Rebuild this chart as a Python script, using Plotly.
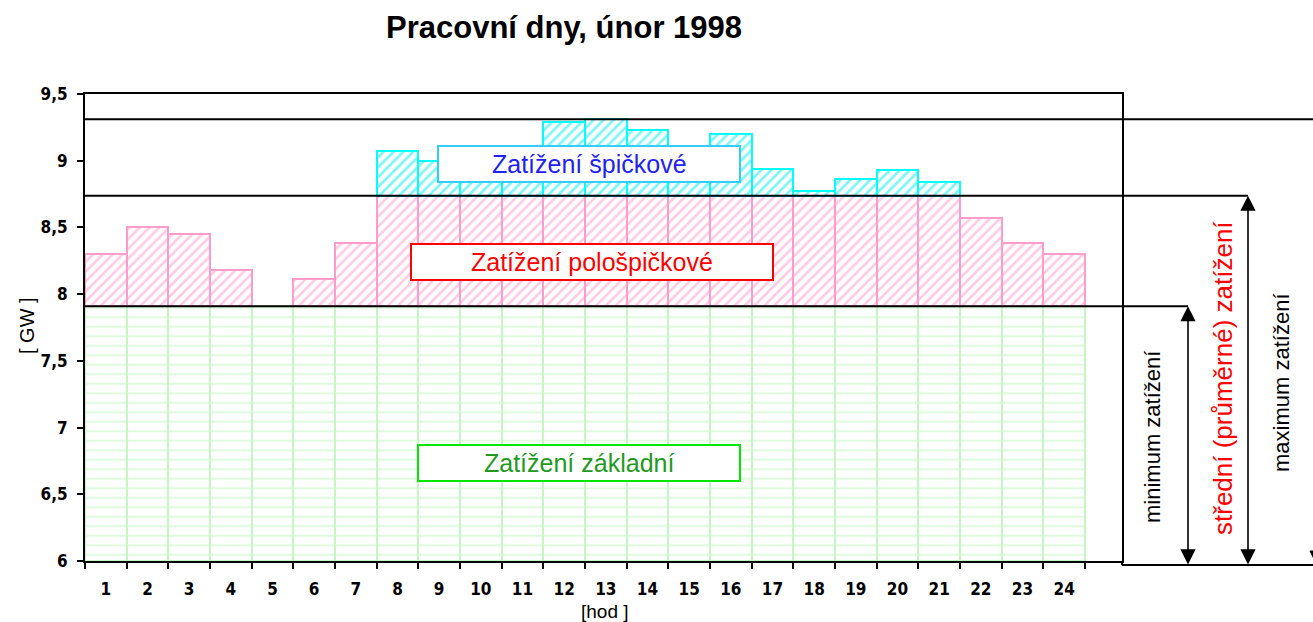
import plotly.graph_objects as go

# ---------------- data ----------------
HOURS = list(range(1, 25))
HOUR_LABELS = [str(h) for h in HOURS]
LOAD_GW = [8.30, 8.50, 8.45, 8.18, 7.91, 8.11, 8.38, 9.07, 9.00, 9.04, 9.08, 9.29,
           9.31, 9.23, 9.08, 9.20, 8.94, 8.77, 8.86, 8.93, 8.84, 8.57, 8.38, 8.30]
Y_TICKS = [6, 6.5, 7, 7.5, 8, 8.5, 9, 9.5]
Y_TICK_LABELS = ["6", "6,5", "7", "7,5", "8", "8,5", "9", "9,5"]
Y_MIN_AXIS, Y_MAX_AXIS = 6, 9.5

TITLE = "Pracovní dny, únor 1998"
LBL_PEAK = "Zatížení špičkové"
LBL_HALF = "Zatížení pološpičkové"
LBL_BASE = "Zatížení základní"
LBL_MIN = "minimum zatížení"
LBL_MEAN = "střední (průměrné) zatížení"
LBL_MAX = "maximum zatížení"

# ---------------- derived levels ----------------
MIN_L = min(LOAD_GW)
MAX_L = max(LOAD_GW)
MEAN_L = sum(LOAD_GW) / len(LOAD_GW)

base_h = [MIN_L - Y_MIN_AXIS for _ in LOAD_GW]
half_h = [(min(v, MEAN_L) - MIN_L) if v > MIN_L else None for v in LOAD_GW]
peak_h = [(v - MEAN_L) if v > MEAN_L else None for v in LOAD_GW]

# ---------------- layout geometry (pixels) ----------------
W, H = 1313, 622
PL, PR, PT, PB = 85, 1122, 94, 561
BAR_RIGHT = 1085


def px(x):
    return (x - PL) / (PR - PL)


def py(y):
    return (PB - y) / (PB - PT)


def yv(v):
    return (v - Y_MIN_AXIS) / (Y_MAX_AXIS - Y_MIN_AXIS)


x_max = 0.5 + 24 * (PR - PL) / (BAR_RIGHT - PL)

fig = go.Figure()
fig.add_trace(go.Bar(
    x=HOURS, y=base_h, base=Y_MIN_AXIS, width=1,
    marker=dict(color="white", line=dict(color="#c4f7c4", width=2),
                pattern=dict(shape="-", fgcolor="#c4f7c4", bgcolor="white",
                             size=9.5, solidity=0.24)),
    showlegend=False, hoverinfo="skip"))
fig.add_trace(go.Bar(
    x=HOURS, y=half_h, base=MIN_L, width=1,
    marker=dict(color="white", line=dict(color="#ff9ccc", width=2),
                pattern=dict(shape="/", fgcolor="#ff99cc", bgcolor="white",
                             size=7, solidity=0.38)),
    showlegend=False, hoverinfo="skip"))
fig.add_trace(go.Bar(
    x=HOURS, y=peak_h, base=MEAN_L, width=1,
    marker=dict(color="white", line=dict(color="#00ffff", width=2),
                pattern=dict(shape="/", fgcolor="#00eeee", bgcolor="white",
                             size=7, solidity=0.38)),
    showlegend=False, hoverinfo="skip"))

shapes = []
line_k = dict(color="black", width=2)
# level lines
shapes.append(dict(type="line", xref="paper", yref="paper", x0=0, x1=px(1188),
                   y0=yv(MIN_L), y1=yv(MIN_L), line=line_k, layer="above"))
shapes.append(dict(type="line", xref="paper", yref="paper", x0=0, x1=px(1248),
                   y0=yv(MEAN_L), y1=yv(MEAN_L), line=line_k, layer="above"))
shapes.append(dict(type="line", xref="paper", yref="paper", x0=0, x1=px(1330),
                   y0=yv(MAX_L), y1=yv(MAX_L), line=line_k, layer="above"))
# bottom line on the right and little extension of the frame
shapes.append(dict(type="line", xref="paper", yref="paper", x0=px(1122), x1=px(1330),
                   y0=py(565), y1=py(565), line=line_k, layer="above"))
shapes.append(dict(type="line", xref="paper", yref="paper", x0=px(1122), x1=px(1122),
                   y0=py(561), y1=py(565), line=line_k, layer="above"))
# maximum arrow, mostly beyond the right edge of the picture
MAX_ARROW_X = 1317
shapes.append(dict(type="line", xref="paper", yref="paper", x0=px(MAX_ARROW_X), x1=px(MAX_ARROW_X),
                   y0=py(565), y1=yv(MAX_L), line=dict(color="black", width=1.6), layer="above"))
shapes.append(dict(type="path", xref="paper", yref="paper",
                   path="M {a},{b} L {c},{d} L {e},{d} Z".format(
                       a=px(MAX_ARROW_X), b=py(565), c=px(MAX_ARROW_X - 7), d=py(551),
                       e=px(MAX_ARROW_X + 7)),
                   fillcolor="black", line=dict(color="black", width=1), layer="above"))
# label boxes
for (x0, x1, y0, y1, col) in [(438, 740, 146, 182, "#33ccff"),
                              (411, 773, 244, 280, "#ff0000"),
                              (418, 740, 445, 481, "#00e600")]:
    shapes.append(dict(type="rect", xref="paper", yref="paper",
                       x0=px(x0), x1=px(x1), y0=py(y1), y1=py(y0),
                       fillcolor="white", line=dict(color=col, width=2), layer="above"))

ann = []
label_font = "Liberation Sans, Arial, sans-serif"


def text_ann(text, xpix, ypix, size, color, angle=0):
    return dict(text=text, x=px(xpix), y=py(ypix), xref="paper", yref="paper",
                xanchor="center", yanchor="middle", showarrow=False, textangle=angle,
                font=dict(family=label_font, size=size, color=color))


ann.append(text_ann(LBL_PEAK, 589, 164, 25, "#2222ee"))
ann.append(text_ann(LBL_HALF, 592, 262, 25, "#ff0000"))
ann.append(text_ann(LBL_BASE, 579, 463, 25, "#1f9a1f"))
# rotated side labels
ann.append(text_ann(LBL_MIN, 1152, 437, 22, "black", -90))
ann.append(text_ann(LBL_MEAN, 1223, 378, 26, "#ff0000", -90))
ann.append(text_ann(LBL_MAX, 1281, 383, 22, "black", -90))
# double arrows
for xpix, level in [(1188, MIN_L), (1248, MEAN_L)]:
    top_pix = PB - yv(level) * (PB - PT)
    ann.append(dict(text="", x=px(xpix), y=yv(level), xref="paper", yref="paper",
                    ax=0, ay=565 - top_pix, axref="pixel", ayref="pixel",
                    showarrow=True, arrowhead=2, startarrowhead=2, arrowside="end+start",
                    arrowsize=1.9, startarrowsize=1.9, arrowwidth=1.6, arrowcolor="black",
                    standoff=0, startstandoff=0, borderpad=0, font=dict(size=1)))
# title and axis titles
ann.append(text_ann("<b>" + TITLE + "</b>", 564, 27, 31, "black"))
ann.append(text_ann("[ GW ]", 27, 326, 20, "black", -90))
ann.append(text_ann("[hod ]", 605, 611, 19, "black"))

tick_font = dict(family="Liberation Sans Narrow, DejaVu Sans Condensed, Arial Narrow, sans-serif",
                 size=17, color="black", weight="bold")

fig.update_layout(
    width=W, height=H,
    margin=dict(l=PL, r=W - PR, t=PT, b=H - PB, pad=0),
    paper_bgcolor="white", plot_bgcolor="white",
    barmode="overlay", bargap=0,
    shapes=shapes, annotations=ann,
    xaxis=dict(range=[0.5, x_max], tickmode="array", tickvals=HOURS, ticktext=HOUR_LABELS,
               ticks="", showgrid=False, zeroline=False, showline=True, linecolor="black",
               linewidth=2, mirror=True, tickfont=tick_font, ticklabelstandoff=12,
               minor=dict(tickmode="array", tickvals=[h - 0.5 for h in HOURS] + [HOURS[-1] + 0.5],
                          ticks="outside", ticklen=6, tickwidth=2, tickcolor="black",
                          showgrid=False)),
    yaxis=dict(range=[Y_MIN_AXIS, Y_MAX_AXIS], tickmode="array", tickvals=Y_TICKS,
               ticktext=Y_TICK_LABELS, ticks="outside", ticklen=6, tickwidth=2,
               tickcolor="black", showgrid=False, zeroline=False, showline=True,
               linecolor="black", linewidth=2, mirror=True, tickfont=tick_font,
               ticklabelstandoff=6),
)

fig.write_html("out.html", config={"displayModeBar": False},
               post_script="document.body.style.margin='0px';")
